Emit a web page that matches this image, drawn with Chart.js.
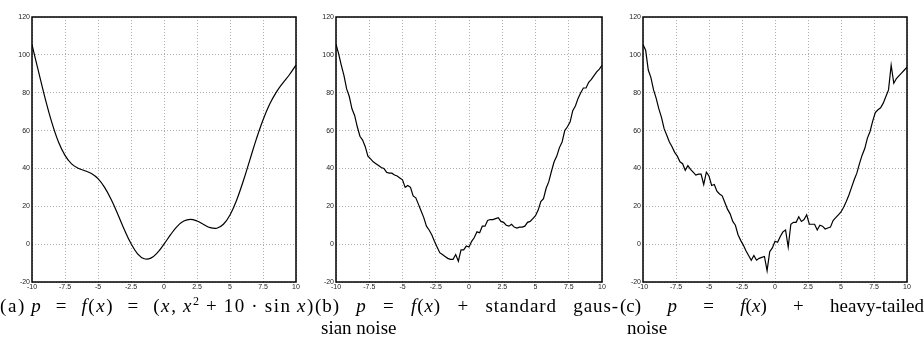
<!DOCTYPE html>
<html>
<head>
<meta charset="utf-8">
<script src="https://cdn.jsdelivr.net/npm/chart.js@4.4.0/dist/chart.umd.min.js"></script>
<style>
    body { margin: 0; background: #fff; width: 924px; height: 352px; position: relative; overflow: hidden; }
    canvas { position: absolute; top: 0; }
    .cap { position: absolute; font-family: 'Liberation Serif', 'DejaVu Serif', serif; font-size: 19px; color: #000; line-height: 22px; }
    .just { text-align: justify; text-align-last: justify; }
    .cap sup { font-size: 12px; line-height: 0; }
</style>
</head>
<body>
<canvas id="chartA" width="310" height="300" style="left:0px"></canvas>
<canvas id="chartB" width="312" height="300" style="left:304px"></canvas>
<canvas id="chartC" width="310" height="300" style="left:611px"></canvas>

<div class="cap just" style="left:0px; top:295px; width:315px; letter-spacing:1.6px;">(a)&#8201;<i>p</i> = <i>f</i>(<i>x</i>) = (<i>x</i>,&#8201;<i>x</i><sup>2</sup>&#8201;+&#8201;10&#8201;·&#8201;sin&#8201;<i>x</i>)</div>
<div class="cap just" style="left:315px; top:295px; width:304px; letter-spacing:0.9px;">(b) <i>p</i> = <i>f</i>(<i>x</i>) + standard gaus-</div>
<div class="cap" style="left:321px; top:317px;">sian noise</div>
<div class="cap just" style="left:620px; top:295px; width:304px;">(c) <i>p</i> = <i>f</i>(<i>x</i>) + heavy-tailed</div>
<div class="cap" style="left:627px; top:317px;">noise</div>

<script>
// x positions of the smooth curve (panel a)
const xSmooth = [-10, -9.5, -9, -8.5, -8, -7.5, -7, -6.5, -6, -5.5, -5, -4.5, -4, -3.5, -3, -2.5, -2, -1.5, -1, -0.5,
    0, 0.5, 1, 1.5, 2, 2.5, 3, 3.5, 4, 4.5, 5, 5.5, 6, 6.5, 7, 7.5, 8, 8.5, 9, 9.5, 10];
const ySmooth = [105.4, 91.0, 76.9, 64.3, 54.1, 46.9, 42.4, 40.1, 38.8, 37.3, 34.6, 30.0, 23.6, 15.8, 7.6, 0.3, -5.1, -7.7, -7.4, -4.5,
    0, 5.0, 9.4, 12.2, 13.1, 12.2, 10.4, 8.7, 8.4, 10.5, 15.4, 23.2, 33.2, 44.4, 55.6, 65.6, 73.9, 80.2, 85.1, 89.5, 94.6];

// x positions of the noisy samples (panels b and c)
const xNoisy = [-10, -9.8, -9.6, -9.4, -9.2, -9, -8.8, -8.6, -8.4, -8.2,
    -8, -7.8, -7.6, -7.4, -7.2, -7, -6.8, -6.6, -6.4, -6.2,
    -6, -5.8, -5.6, -5.4, -5.2, -5, -4.8, -4.6, -4.4, -4.2,
    -4, -3.8, -3.6, -3.4, -3.2, -3, -2.8, -2.6, -2.4, -2.2,
    -2, -1.8, -1.6, -1.4, -1.2, -1, -0.8, -0.6, -0.4, -0.2,
    0, 0.2, 0.4, 0.6, 0.8, 1, 1.2, 1.4, 1.6, 1.8,
    2, 2.2, 2.4, 2.6, 2.8, 3, 3.2, 3.4, 3.6, 3.8,
    4, 4.2, 4.4, 4.6, 4.8, 5, 5.2, 5.4, 5.6, 5.8,
    6, 6.2, 6.4, 6.6, 6.8, 7, 7.2, 7.4, 7.6, 7.8,
    8, 8.2, 8.4, 8.6, 8.8, 9, 9.2, 9.4, 9.6, 9.8, 10];

const yGauss = [105.6, 100.5, 94.5, 89.0, 82.0, 78.0, 71.5, 68.0, 62.0, 57.0,
    55.0, 51.5, 46.5, 45.0, 43.5, 42.5, 41.5, 40.5, 40.0, 38.0,
    37.5, 37.5, 36.5, 36.0, 35.0, 34.0, 30.0, 31.0, 30.0, 25.5,
    24.5, 21.0, 17.5, 14.0, 9.5, 7.5, 5.0, 1.5, -1.5, -4.5,
    -5.5, -6.5, -7.5, -8.0, -8.0, -5.5, -9.0, -3.0, -3.0, -1.0,
    -1.5, 1.5, 3.5, 6.5, 6.0, 9.5, 9.5, 12.5, 13.0, 13.0,
    13.5, 14.0, 12.0, 11.5, 10.0, 9.5, 10.5, 9.0, 8.5, 9.0,
    9.0, 9.5, 11.5, 12.0, 13.5, 15.0, 18.0, 22.5, 24.0, 29.5,
    33.0, 38.5, 43.5, 46.5, 51.0, 54.0, 60.0, 62.0, 64.5, 70.5,
    73.0, 77.0, 80.0, 82.5, 82.5, 85.5, 87.0, 89.0, 91.0, 92.5, 94.5];

const yHeavy = [105.5, 102.5, 92.0, 88.0, 81.5, 77.0, 71.5, 67.0, 61.0, 57.5,
    54.0, 51.5, 48.5, 46.5, 43.5, 42.5, 39.0, 41.5, 39.5, 38.0,
    36.5, 37.0, 37.0, 31.5, 38.0, 36.0, 31.0, 31.5, 28.0, 26.5,
    25.5, 22.0, 18.5, 16.0, 12.0, 10.0, 5.0, 2.0, -0.5, -3.5,
    -6.0, -8.5, -6.0, -8.5, -7.5, -7.0, -6.5, -14.0, -4.0, -2.0,
    1.5, 1.0, 4.0, 6.5, 7.5, -1.5, 10.5, 11.5, 11.5, 14.5,
    12.0, 13.0, 15.5, 10.5, 10.5, 10.5, 7.5, 10.0, 9.5, 8.0,
    8.5, 9.0, 12.5, 14.0, 15.5, 17.0, 19.5, 22.5, 26.0, 30.0,
    34.0, 37.5, 42.5, 47.0, 50.5, 56.0, 59.5, 65.0, 69.5, 71.0,
    72.0, 74.5, 78.0, 81.5, 94.5, 85.0, 87.5, 89.0, 90.5, 92.0, 93.5];

const xTickStep = 2.5;
const yTickStep = 20;

Chart.defaults.font.family = "'Liberation Sans', Arial, sans-serif";
Chart.defaults.font.size = 7;
Chart.defaults.color = '#222';

// black frame round the plot area, like the matlab box
const boxPlugin = {
    id: 'box',
    afterDraw(chart) {
        const a = chart.chartArea;
        const ctx = chart.ctx;
        ctx.save();
        ctx.strokeStyle = '#000';
        ctx.lineWidth = 1.5;
        ctx.strokeRect(a.left, a.top, a.right - a.left, a.bottom - a.top);
        ctx.restore();
    }
};

function crearGrafico(id, xs, ys, tension) {
    const ctx = document.getElementById(id).getContext('2d');
    return new Chart(ctx, {
        type: 'line',
        data: {
            datasets: [{
                data: xs.map((x, i) => ({ x: x, y: ys[i] })),
                borderColor: '#000',
                borderWidth: 1.2,
                pointRadius: 0,
                tension: tension,
                fill: false
            }]
        },
        options: {
            responsive: false,
            animation: false,
            layout: { padding: { top: 17, right: 14, left: 0, bottom: 0 } },
            plugins: { legend: { display: false }, tooltip: { enabled: false } },
            scales: {
                x: {
                    type: 'linear',
                    min: -10, max: 10,
                    afterFit: (s) => { s.height = 18; },
                    ticks: { stepSize: xTickStep, padding: 1, maxRotation: 0, autoSkip: false },
                    grid: { color: '#9a9a9a', lineWidth: 0.8, drawTicks: false },
                    border: { display: false, dash: [1, 2] }
                },
                y: {
                    min: -20, max: 120,
                    afterFit: (s) => { s.width = 32; },
                    ticks: { stepSize: yTickStep, padding: 2 },
                    grid: { color: '#9a9a9a', lineWidth: 0.8, drawTicks: false },
                    border: { display: false, dash: [1, 2] }
                }
            }
        },
        plugins: [boxPlugin]
    });
}

crearGrafico('chartA', xSmooth, ySmooth, 0.4);
crearGrafico('chartB', xNoisy, yGauss, 0);
crearGrafico('chartC', xNoisy, yHeavy, 0);
</script>
</body>
</html>
